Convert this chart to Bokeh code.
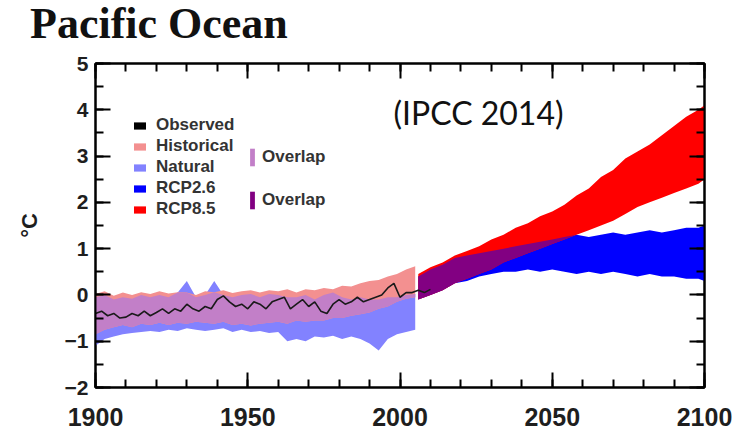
import numpy as np
from bokeh.plotting import figure
from bokeh.layouts import column
from bokeh.models import (LinearAxis, Range1d, Legend, LegendItem, Label, Div,
                          SingleIntervalTicker)
from bokeh.embed import file_html
from bokeh.resources import INLINE

# ---------------- data ----------------
hist_years = [1900, 1903, 1906, 1909, 1912, 1915, 1918, 1921, 1924, 1927,
              1930, 1933, 1936, 1939, 1942, 1945, 1948, 1951, 1954, 1957,
              1960, 1963, 1966, 1969, 1972, 1975, 1978, 1981, 1984, 1987,
              1990, 1993, 1996, 1999, 2002, 2005]
historical_upper = [0.02, 0.08, -0.02, 0.05, 0.0, 0.06, 0.02, 0.08, 0.03, 0.06,
                    0.05, 0.0, 0.08, 0.06, 0.1, 0.04, 0.08, 0.1, 0.05, 0.1,
                    0.08, 0.12, 0.05, 0.12, 0.1, 0.15, 0.12, 0.2, 0.18, 0.25,
                    0.3, 0.32, 0.4, 0.45, 0.55, 0.62]
historical_lower = [-0.85, -0.75, -0.7, -0.65, -0.7, -0.62, -0.65, -0.6, -0.65, -0.6,
                    -0.62, -0.58, -0.6, -0.62, -0.58, -0.65, -0.62, -0.66, -0.62, -0.6,
                    -0.58, -0.62, -0.55, -0.58, -0.55, -0.55, -0.5, -0.5, -0.45, -0.42,
                    -0.38, -0.3, -0.25, -0.15, -0.08, -0.05]
natural_upper = [-0.05, 0.0, -0.1, -0.05, -0.08, 0.0, -0.05, 0.0, -0.05, 0.05,
                 0.3, -0.05, 0.0, 0.3, 0.0, -0.05, 0.0, 0.02, -0.05, 0.02,
                 0.0, -0.05, -0.05, 0.0, -0.1, 0.0, 0.05, -0.05, -0.1, -0.05,
                 -0.1, -0.1, -0.05, -0.05, 0.0, 0.02]
natural_lower = [-1.1, -0.95, -0.9, -0.85, -0.82, -0.8, -0.78, -0.8, -0.75, -0.78,
                 -0.72, -0.75, -0.78, -0.75, -0.72, -0.8, -0.75, -0.8, -0.78, -0.82,
                 -0.8, -1.0, -0.95, -1.0, -0.9, -0.92, -0.88, -0.95, -0.9, -0.95,
                 -1.05, -1.2, -0.95, -0.85, -0.8, -0.75]

obs_years = [1900, 1902, 1904, 1906, 1908, 1910, 1912, 1914, 1916, 1918,
             1920, 1922, 1924, 1926, 1928, 1930, 1932, 1934, 1936, 1938,
             1940, 1942, 1944, 1946, 1948, 1950, 1952, 1954, 1956, 1958,
             1960, 1962, 1964, 1966, 1968, 1970, 1972, 1974, 1976, 1978,
             1980, 1982, 1984, 1986, 1988, 1990, 1992, 1994, 1996, 1998,
             2000, 2002, 2004, 2006, 2008, 2010]
observed = [-0.4, -0.35, -0.45, -0.4, -0.5, -0.48, -0.4, -0.45, -0.35, -0.45,
            -0.38, -0.3, -0.4, -0.3, -0.35, -0.2, -0.3, -0.35, -0.25, -0.3,
            -0.1, -0.02, -0.15, -0.25, -0.2, -0.3, -0.15, -0.2, -0.3, -0.15,
            -0.1, -0.05, -0.3, -0.2, -0.1, -0.25, -0.15, -0.35, -0.4, -0.2,
            -0.1, -0.2, -0.15, -0.05, -0.15, -0.1, -0.05, 0.0, 0.15, 0.25,
            -0.05, 0.05, 0.05, 0.1, 0.05, 0.12]

proj_years = [2006, 2010, 2014, 2018, 2022, 2026, 2030, 2034, 2038, 2042,
              2046, 2050, 2054, 2058, 2062, 2066, 2070, 2074, 2078, 2082,
              2086, 2090, 2094, 2098, 2100]
rcp85_upper = [0.45, 0.6, 0.7, 0.85, 0.95, 1.05, 1.2, 1.3, 1.45, 1.55,
               1.7, 1.8, 1.95, 2.15, 2.3, 2.55, 2.7, 2.95, 3.1, 3.25,
               3.45, 3.65, 3.85, 4.0, 4.1]
rcp85_lower = [-0.1, 0.0, 0.1, 0.25, 0.35, 0.45, 0.55, 0.7, 0.8, 0.9,
               1.0, 1.1, 1.2, 1.3, 1.4, 1.5, 1.6, 1.75, 1.9, 2.0,
               2.1, 2.2, 2.3, 2.4, 2.5]
rcp26_upper = [0.4, 0.55, 0.65, 0.8, 0.85, 0.9, 0.95, 1.0, 1.05, 1.1,
               1.15, 1.2, 1.25, 1.3, 1.25, 1.3, 1.35, 1.3, 1.35, 1.4,
               1.35, 1.4, 1.45, 1.45, 1.5]
rcp26_lower = [-0.1, 0.0, 0.1, 0.25, 0.3, 0.4, 0.45, 0.5, 0.5, 0.55,
               0.5, 0.55, 0.5, 0.45, 0.5, 0.45, 0.5, 0.45, 0.4, 0.45,
               0.4, 0.4, 0.35, 0.35, 0.3]

legend_labels = ["Observed", "Historical", "Natural", "RCP2.6", "RCP8.5"]
overlap_label = "Overlap"
title_text = "Pacific Ocean"
source_text = "(IPCC 2014)"
y_label = "°C"

# ---------------- derived overlaps ----------------
h_lo = np.maximum(historical_lower, natural_lower)
h_hi = np.maximum(np.minimum(historical_upper, natural_upper), h_lo)
f_lo = np.maximum(rcp85_lower, rcp26_lower)
f_hi = np.maximum(np.minimum(rcp85_upper, rcp26_upper), f_lo)

# ---------------- title strip ----------------
title_div = Div(
    text=('<div style="padding:2px 0 0 30px; font-family:\'Liberation Serif\'; '
          'font-weight:bold; font-size:44px; line-height:44px; color:#111111; '
          'white-space:nowrap;">' + title_text + '</div>'),
    width=738, height=50, margin=0)

# ---------------- main figure ----------------
p = figure(width=738, height=380, x_range=Range1d(1900, 2100), y_range=Range1d(-2, 5),
           output_backend="svg", toolbar_location=None,
           min_border_left=95, min_border_right=34, min_border_top=13, min_border_bottom=43,
           background_fill_color="white", border_fill_color="white")
p.grid.visible = False
p.outline_line_color = "black"
p.outline_line_width = 2

C_NAT = "#8282ff"
C_HIST = "#f39090"
C_HOV = "#c27fc8"
C_R26 = "#0000ff"
C_R85 = "#ff0000"
C_FOV = "#820082"

r_nat = p.varea(x=hist_years, y1=natural_lower, y2=natural_upper, fill_color=C_NAT)
r_hist = p.varea(x=hist_years, y1=historical_lower, y2=historical_upper, fill_color=C_HIST)
r_hov = p.varea(x=hist_years, y1=h_lo, y2=h_hi, fill_color=C_HOV)
r_r26 = p.varea(x=proj_years, y1=rcp26_lower, y2=rcp26_upper, fill_color=C_R26)
r_r85 = p.varea(x=proj_years, y1=rcp85_lower, y2=rcp85_upper, fill_color=C_R85)
r_fov = p.varea(x=proj_years, y1=f_lo, y2=f_hi, fill_color=C_FOV)
r_obs = p.line(x=obs_years, y=observed, line_color="#1a1a1a", line_width=1.6)
# zero-height area along the observed series: only used as the legend swatch
r_obs_sw = p.varea(x=obs_years, y1=observed, y2=observed, fill_color="black")

# ---------------- axes ----------------
def style_axis(ax, labels=True, fs="21px"):
    ax.axis_line_color = "black"
    ax.axis_line_width = 2
    ax.major_tick_line_color = "black"
    ax.minor_tick_line_color = "black"
    ax.major_tick_line_width = 2
    ax.minor_tick_line_width = 2
    ax.major_tick_in = 15
    ax.major_tick_out = 0
    ax.minor_tick_in = 8
    ax.minor_tick_out = 0
    if labels:
        ax.major_label_text_font = "Liberation Sans"
        ax.major_label_text_font_style = "bold"
        ax.major_label_text_font_size = fs
        ax.major_label_text_color = "#1e1e1e"
    else:
        ax.major_label_text_font_size = "0px"
        ax.major_label_text_color = None
        ax.major_label_standoff = 0

p.xaxis.ticker = SingleIntervalTicker(interval=50, num_minor_ticks=5)
p.yaxis.ticker = SingleIntervalTicker(interval=1, num_minor_ticks=2)
style_axis(p.xaxis[0], True, "25px")
style_axis(p.yaxis[0], True, "21px")
p.xaxis.major_label_standoff = 20
p.xaxis.major_label_text_line_height = 0.8
p.yaxis.major_label_standoff = 7
p.yaxis.axis_label = y_label
p.yaxis.axis_label_text_font = "Liberation Sans"
p.yaxis.axis_label_text_font_style = "bold"
p.yaxis.axis_label_text_font_size = "22px"
p.yaxis.axis_label_text_color = "#1e1e1e"
p.yaxis.axis_label_standoff = 20

top_ax = LinearAxis(ticker=SingleIntervalTicker(interval=50, num_minor_ticks=5))
style_axis(top_ax, False)
p.add_layout(top_ax, "above")
right_ax = LinearAxis(ticker=SingleIntervalTicker(interval=1, num_minor_ticks=2))
style_axis(right_ax, False)
p.add_layout(right_ax, "right")

# ---------------- legends ----------------
leg1 = Legend(items=[LegendItem(label=legend_labels[0], renderers=[r_obs_sw]),
                     LegendItem(label=legend_labels[1], renderers=[r_hist]),
                     LegendItem(label=legend_labels[2], renderers=[r_nat]),
                     LegendItem(label=legend_labels[3], renderers=[r_r26]),
                     LegendItem(label=legend_labels[4], renderers=[r_r85])],
              location=(37, 168), margin=0, padding=0, spacing=1,
              glyph_width=15, glyph_height=9, label_height=19, label_standoff=9,
              label_text_font="Liberation Sans", label_text_font_style="bold",
              label_text_font_size="17px", label_text_color="#333333",
              background_fill_alpha=0, border_line_alpha=0)
leg2 = Legend(items=[LegendItem(label=overlap_label, renderers=[r_hov]),
                     LegendItem(label=overlap_label, renderers=[r_fov])],
              location=(154, 176), margin=0, padding=0, spacing=21,
              glyph_width=6, glyph_height=22, label_height=22, label_standoff=7,
              label_text_font="Liberation Sans", label_text_font_style="bold",
              label_text_font_size="17px", label_text_color="#333333",
              background_fill_alpha=0, border_line_alpha=0)
p.add_layout(leg1, "center")
p.add_layout(leg2, "center")

p.add_layout(Label(x=298, y=275, x_units="screen", y_units="screen", text=source_text,
                   text_font="Lato", text_font_size="32px", text_color="#111111",
                   text_baseline="alphabetic"))

open("out.html", "w").write(file_html(column(title_div, p, spacing=0), INLINE))
